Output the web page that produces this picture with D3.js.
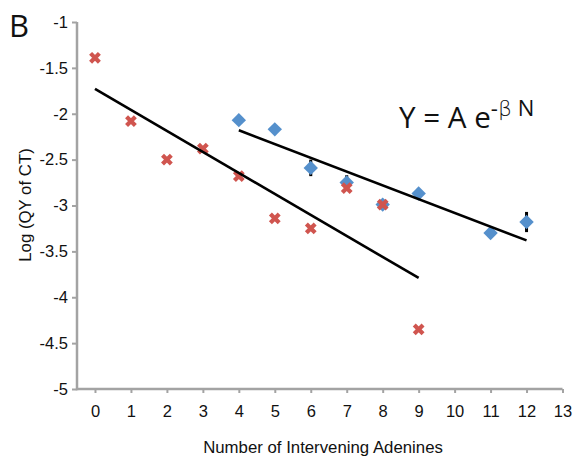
<!DOCTYPE html>
<html>
<head>
<meta charset="utf-8">
<script src="https://cdn.jsdelivr.net/npm/d3@7/dist/d3.min.js"></script>
<style>
  html, body { margin: 0; padding: 0; background: #fff; }
  svg { display: block; }
</style>
</head>
<body>
<svg id="chart" width="575" height="463"></svg>
<script>
// ---- data ----
const xTicks = [0,1,2,3,4,5,6,7,8,9,10,11,12,13];
const yTicks = [-1,-1.5,-2,-2.5,-3,-3.5,-4,-4.5,-5];

const redN   = [0, 1, 2, 3, 4, 5, 6, 7, 8, 9];
const redY   = [-1.39, -2.08, -2.50, -2.38, -2.68, -3.14, -3.25, -2.81, -2.99, -4.35];

const blueN   = [4, 5, 6, 7, 8, 9, 11, 12];
const blueY   = [-2.07, -2.17, -2.59, -2.75, -2.99, -2.87, -3.30, -3.18];
const blueErr = [0.02, 0.02, 0.09, 0.08, 0.03, 0.02, 0.03, 0.11];

const fitRedN  = [0, 9];
const fitRedY  = [-1.73, -3.79];
const fitBlueN = [4, 12];
const fitBlueY = [-2.18, -3.38];

// ---- layout ----
const svg = d3.select("#chart");
const x = d3.scaleLinear().domain([-0.5, 13]).range([77, 562.5]);
const y = d3.scaleLinear().domain([-5, -1]).range([389, 22]);
const axisColor = "#a3a3a3";
const labelFont = "'Liberation Sans', Arial, Helvetica, sans-serif";

// axes
const yAxis = svg.append("g").attr("transform", `translate(${x(-0.5)},0)`)
  .call(d3.axisLeft(y).tickValues(yTicks).tickSize(5).tickPadding(4)
    .tickFormat(d => d3.format("")(d).replace("−","-")));
const xAxis = svg.append("g").attr("transform", `translate(0,${y(-5)})`)
  .call(d3.axisBottom(x).tickValues(xTicks).tickSize(4).tickPadding(12).tickFormat(d3.format("d")));

[yAxis, xAxis].forEach(g => {
  g.selectAll(".tick line").attr("stroke", axisColor).attr("stroke-width", 2);
  g.selectAll(".tick text").attr("fill", "#111").attr("font-family", labelFont)
    .attr("font-size", 16.5);
});
yAxis.select(".domain").remove();
xAxis.select(".domain").remove();
svg.append("line").attr("x1", x(-0.5)).attr("x2", x(-0.5)).attr("y1", y(-1)).attr("y2", y(-5) + 1.25)
  .attr("stroke", axisColor).attr("stroke-width", 2.5);
svg.append("line").attr("x1", x(-0.5)).attr("x2", x(13)).attr("y1", y(-5)).attr("y2", y(-5))
  .attr("stroke", axisColor).attr("stroke-width", 2.5);

// axis titles
svg.append("text").attr("x", 323).attr("y", 453).attr("text-anchor", "middle")
  .attr("font-family", labelFont).attr("font-size", 16.8).attr("fill", "#111")
  .text("Number of Intervening Adenines");
svg.append("text").attr("transform", "translate(31,205) rotate(-90)").attr("text-anchor", "middle")
  .attr("font-family", labelFont).attr("font-size", 16.8).attr("fill", "#111")
  .text("Log (QY of CT)");

// panel letter
svg.append("text").attr("x", 9).attr("y", 37).attr("font-family", "'Open Sans', Lato, sans-serif")
  .attr("font-size", 31).attr("fill", "#111").text("B");

// equation
const eq = svg.append("text").attr("x", 399).attr("y", 128)
  .attr("font-family", "'Open Sans', Lato, sans-serif").attr("font-size", 29.6).attr("fill", "#111");
eq.append("tspan").text("Y = A e");
eq.append("tspan").attr("dy", -12).attr("font-size", 22).text("-");
eq.append("tspan").attr("font-size", 22).attr("font-family", "'DejaVu Sans', sans-serif")
  .attr("font-weight", 300).text("β");
eq.append("tspan").attr("font-size", 22).text(" N");

// error bars
const eb = svg.append("g");
blueN.forEach((n, i) => {
  const e = blueErr[i];
  eb.append("line").attr("x1", x(n)).attr("x2", x(n))
    .attr("y1", y(blueY[i] + e)).attr("y2", y(blueY[i] - e))
    .attr("stroke", "#000").attr("stroke-width", 3);
});

// blue diamonds
const dia = 7.2;
svg.append("g").selectAll("path").data(blueN).join("path")
  .attr("d", (n, i) => {
    const cx = x(n), cy = y(blueY[i]);
    return `M${cx},${cy - dia}L${cx + dia},${cy}L${cx},${cy + dia}L${cx - dia},${cy}Z`;
  })
  .attr("fill", "#5590cc");

// red crosses
const cr = 4.4;
svg.append("g").selectAll("path").data(redN).join("path")
  .attr("d", (n, i) => {
    const cx = x(n), cy = y(redY[i]);
    return `M${cx - cr},${cy - cr}L${cx + cr},${cy + cr}M${cx - cr},${cy + cr}L${cx + cr},${cy - cr}`;
  })
  .attr("stroke", "#d0554f").attr("stroke-width", 4.2).attr("fill", "none");

// fit lines
const line = d3.line().x(d => x(d[0])).y(d => y(d[1]));
svg.append("path").datum(fitRedN.map((n, i) => [n, fitRedY[i]]))
  .attr("d", line).attr("stroke", "#000").attr("stroke-width", 2.6).attr("fill", "none");
svg.append("path").datum(fitBlueN.map((n, i) => [n, fitBlueY[i]]))
  .attr("d", line).attr("stroke", "#000").attr("stroke-width", 2.6).attr("fill", "none");
</script>
</body>
</html>
